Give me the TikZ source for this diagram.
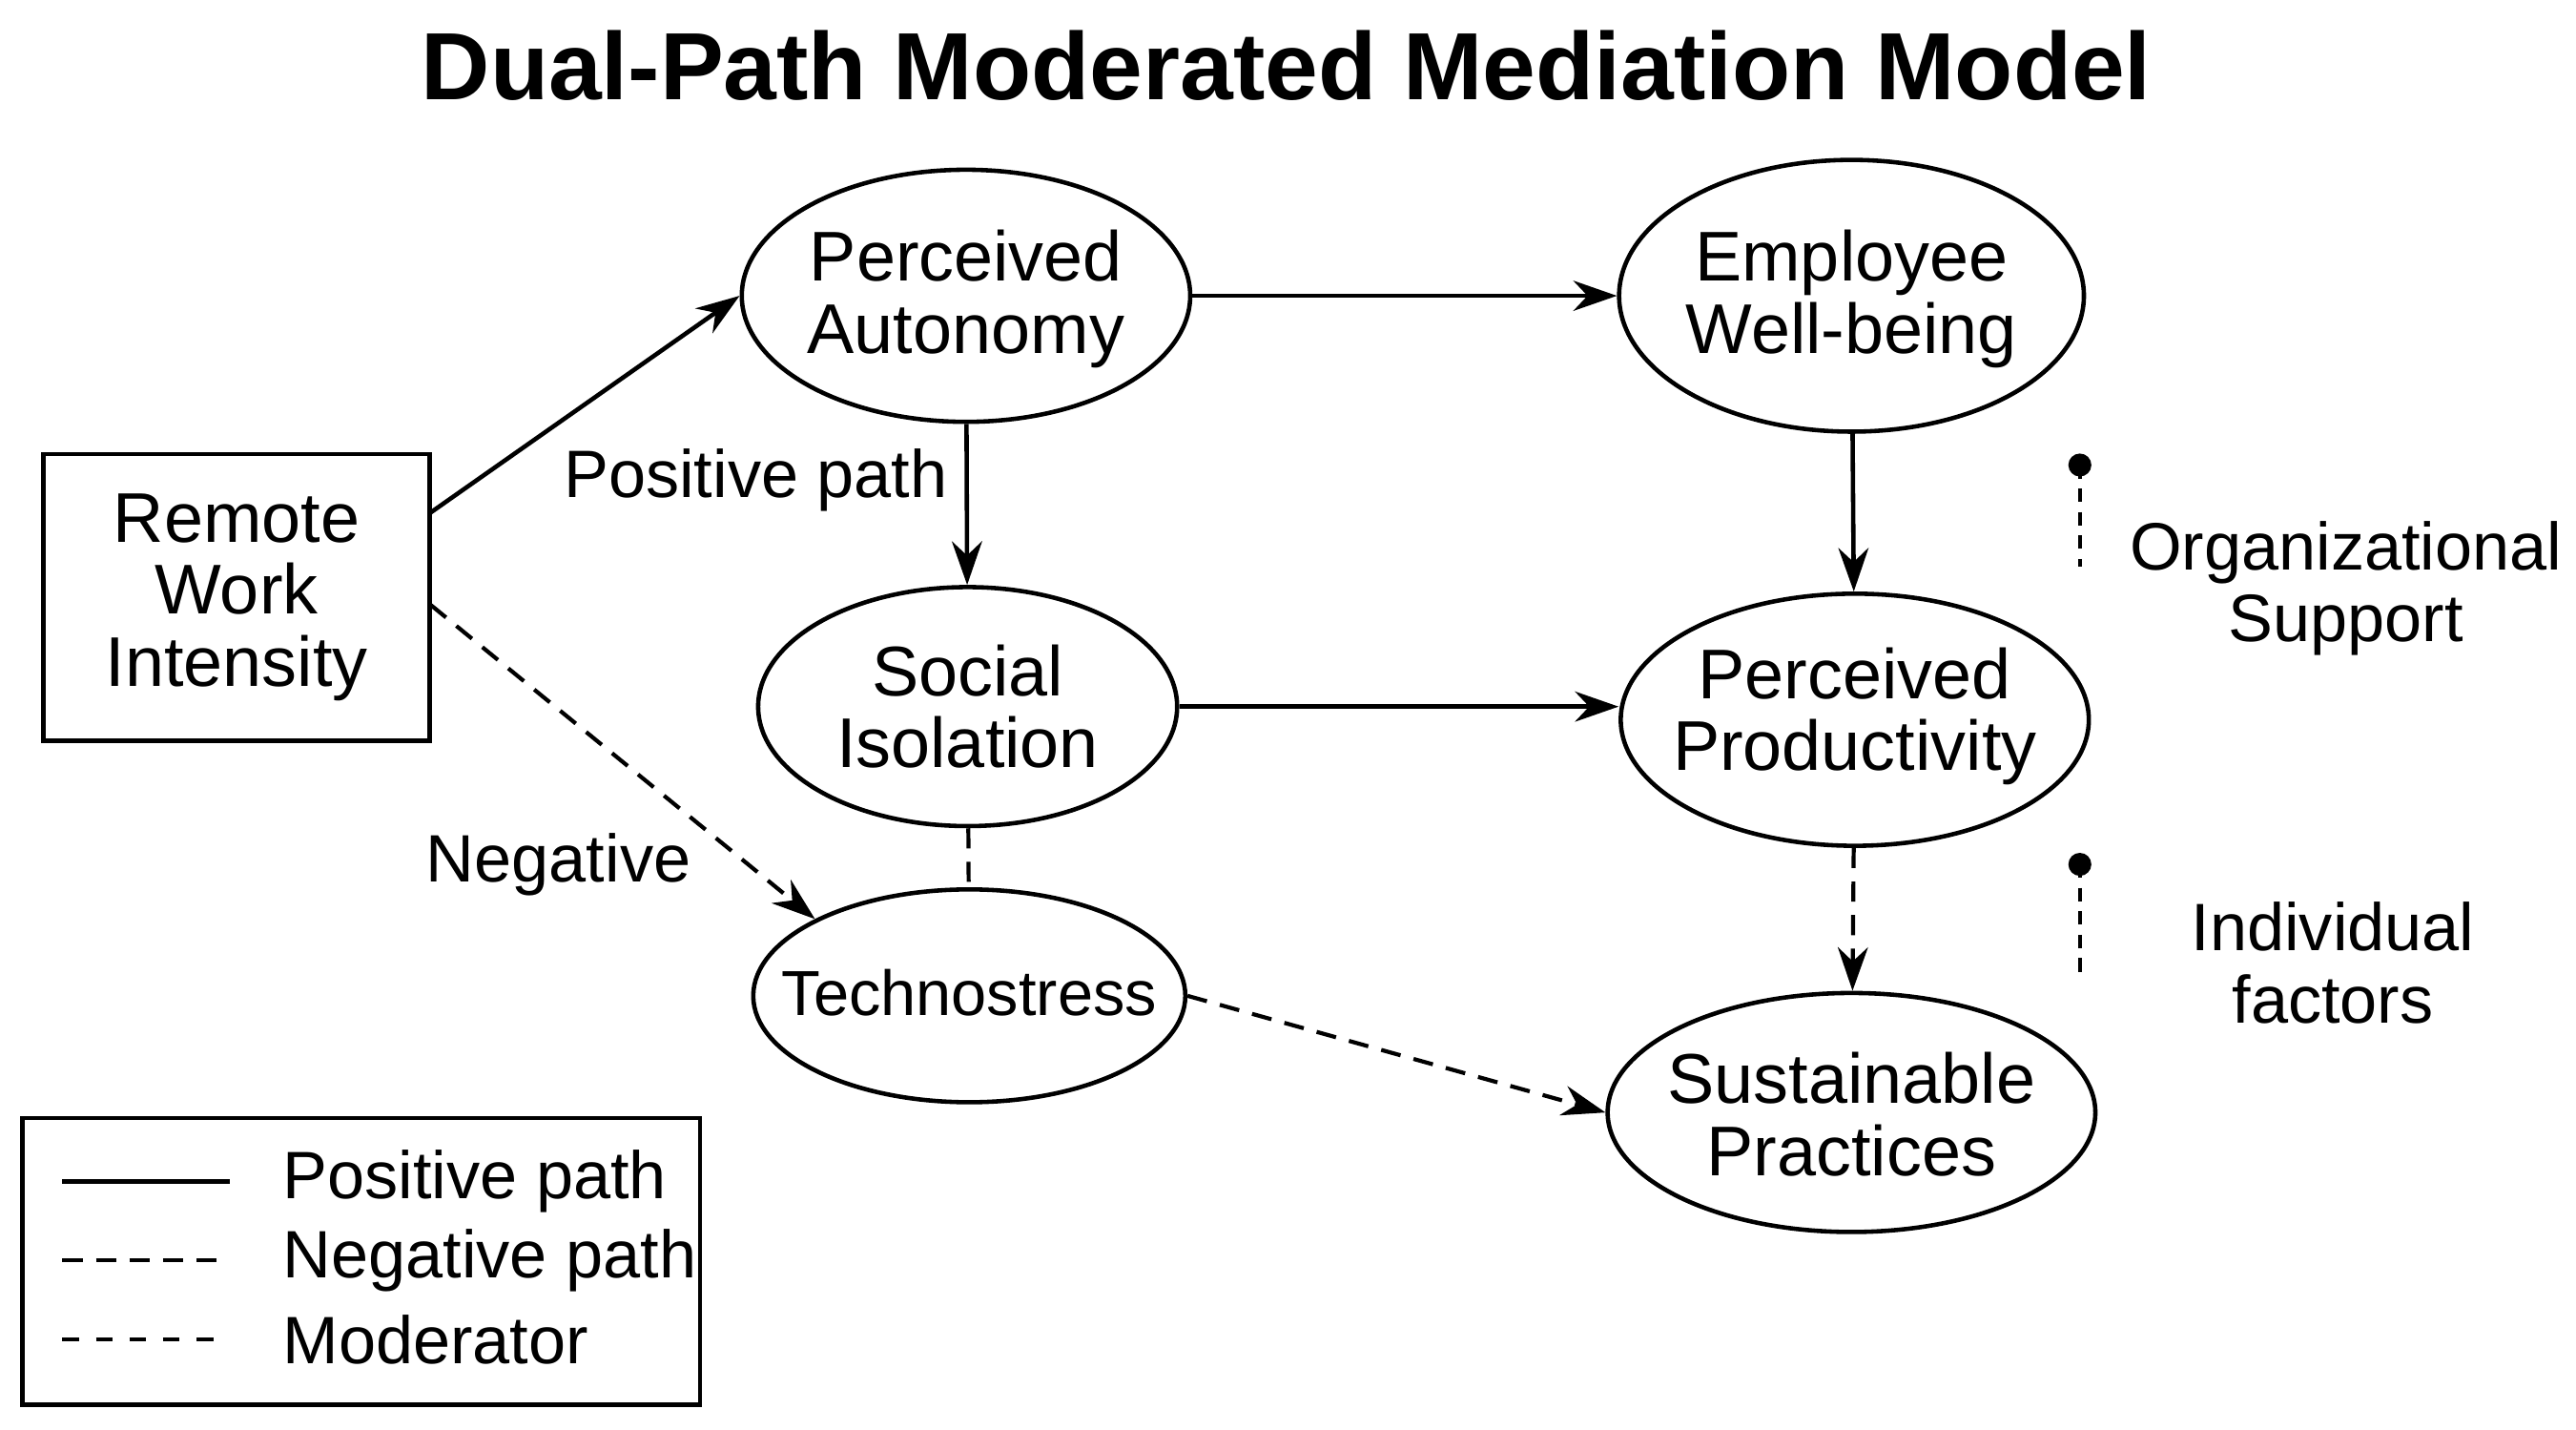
\documentclass[tikz,border=0pt]{standalone}
\usepackage{fontspec}
\setmainfont{Liberation Sans}
\usetikzlibrary{arrows.meta,shapes.geometric}
\def\u{0.4883pt}
\begin{document}
\begin{tikzpicture}[x=0.017226cm,y=-0.017226cm,
  every node/.style={font=\fontsize{20}{21.5}\selectfont, align=center},
  ell/.style={draw, ellipse, line width=1.3pt, inner sep=0pt},
  txt/.style={font=\fontsize{21}{21.5}\selectfont},
  arr/.style={line width=1.3pt, -{Stealth[length=13pt,width=9pt]}},
  dsh/.style={line width=1.2pt, dash pattern=on 6pt off 4pt}]
\useasboundingbox (0,0) rectangle (1568,870);
\node[font=\fontsize{28.5}{30}\selectfont\bfseries] (title) at (783,40) {Dual-Path Moderated Mediation Model};
% nodes (fixed-size ellipses + labels)
\node[ell, minimum width=274*\u, minimum height=154*\u] (pa) at (588,180) {};
\node[txt] (pat) at (588,182) {Perceived\\Autonomy};
\node[ell, minimum width=284*\u, minimum height=166*\u] (ew) at (1127,180) {};
\node[txt] (ewt) at (1127,182) {Employee\\Well-being};
\node[ell, minimum width=256*\u, minimum height=146*\u] (si) at (589,430) {};
\node[txt] (sit) at (589,430) {Social\\Isolation};
\node[ell, minimum width=286*\u, minimum height=154*\u] (pp) at (1129,438) {};
\node[txt] (ppt) at (1129,436) {Perceived\\Productivity};
\node[ell, minimum width=264*\u, minimum height=130*\u] (ts) at (590,606) {};
\node[font=\fontsize{19}{21}\selectfont] (tst) at (590,604) {Technostress};
\node[ell, minimum width=298*\u, minimum height=146*\u] (sp) at (1127,677) {};
\node[txt] (spt) at (1127,678) {Sustainable\\Practices};
\node[draw, line width=1.3pt, minimum width=236*\u, minimum height=175*\u, txt] (rw) at (144,363.5) {Remote\\Work\\Intensity};
% connectors
\coordinate (rwa) at (262,312);
\coordinate (rwb) at (262,368);
\draw[arr] (rwa) -- (pa.west);
\draw[arr] (pa) -- (ew);
\draw[arr] (pa) -- (si);
\draw[arr] (ew) -- (pp);
\draw[arr] (si.east) -- (si.east -| pp.west);
\draw[arr, dsh] (rwb) -- (ts.north west);
\draw[dsh] (si) -- (ts);
\draw[arr, dsh] (ts.east) -- (sp.west);
\draw[arr, dsh] (pp) -- (sp);
\node (lp) at (460,292) {Positive path};
\node (ln) at (340,526) {Negative};
% moderators
\fill (1266,283) circle (7);
\coordinate (m1) at (1266,283);
\coordinate (m1e) at (1266,345);
\draw[line width=1pt, dash pattern=on 4pt off 3pt] (m1) -- (m1e);
\node (os) at (1428,358) {Organizational\\Support};
\fill (1266,526) circle (7);
\coordinate (m2) at (1266,526);
\coordinate (m2e) at (1266,592);
\draw[line width=1pt, dash pattern=on 4pt off 3pt] (m2) -- (m2e);
\node (if) at (1420,586) {Individual\\factors};
% legend
\node[draw, line width=1.3pt, minimum width=414*\u, minimum height=175*\u] (leg) at (220,767.5) {};
\coordinate (l1a) at (38,719); \coordinate (l1b) at (140,719);
\coordinate (l2a) at (38,767); \coordinate (l2b) at (140,767);
\coordinate (l3a) at (38,815); \coordinate (l3b) at (140,815);
\draw[line width=1.2pt] (l1a) -- (l1b);
\draw[dsh] (l2a) -- (l2b);
\draw[line width=1.2pt, dash pattern=on 5pt off 5pt] (l3a) -- (l3b);
\node[anchor=west] (t1) at (165,719) {Positive path};
\node[anchor=west] (t2) at (165,767) {Negative path};
\node[anchor=west] (t3) at (165,815) {Moderator};
\end{tikzpicture}
\end{document}
